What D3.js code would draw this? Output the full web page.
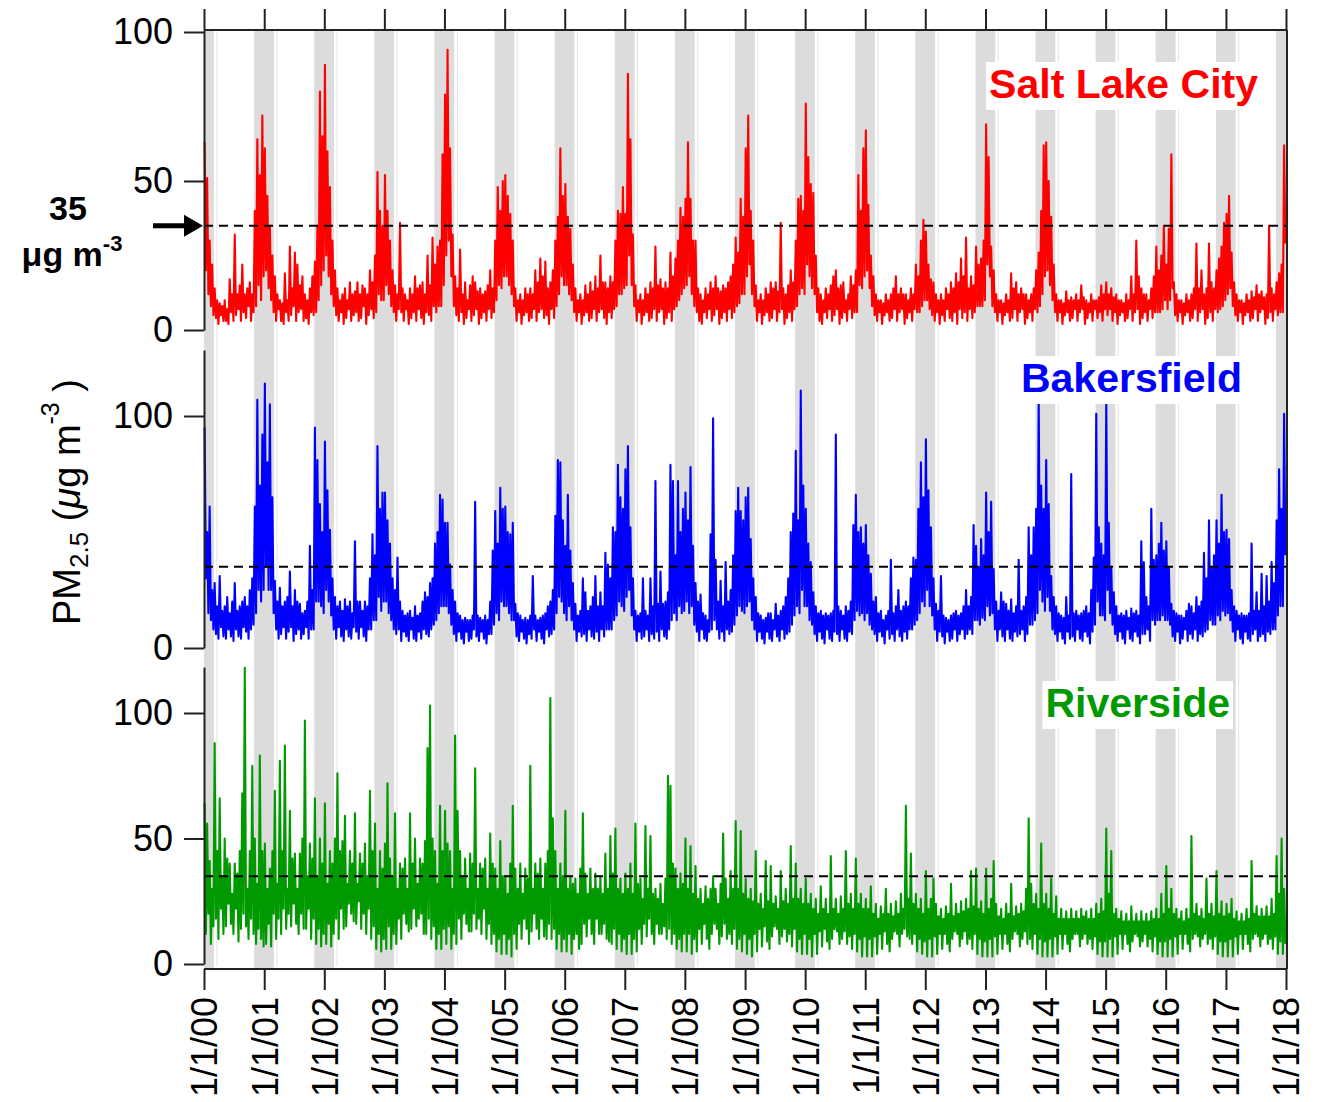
<!DOCTYPE html>
<html>
<head>
<meta charset="utf-8">
<script src="https://cdn.jsdelivr.net/npm/d3@7"></script>
<style>
  body { margin: 0; background: #fff; }
  svg { display: block; }
  text { font-family: "Liberation Sans", Arial, Helvetica, sans-serif; }
</style>
</head>
<body>
<svg id="chart" width="1321" height="1102"></svg>
<script>
// Years covered by the record; each row of a site's data holds 48 readings (4 per month).
const years = d3.range(2000, 2018);
const tickLabels = ["1/1/00","1/1/01","1/1/02","1/1/03","1/1/04","1/1/05","1/1/06","1/1/07","1/1/08",
  "1/1/09","1/1/10","1/1/11","1/1/12","1/1/13","1/1/14","1/1/15","1/1/16","1/1/17","1/1/18"];
const threshold = 35;            // 24-h PM2.5 standard, µg m-3
const winterStart = [10, 1];     // shaded season: Nov 1 ...
const winterEnd = [2, 1];        // ... to Mar 1

// Salt Lake City PM2.5 (µg m-3)
const slcPM = [
  [63,20,51,12, 30,8,22,5, 14,4,10,2, 9,5,8,3, 10,3,7,2, 17,6,12,3, 32,5,12,7, 15,3,22,6, 12,4,14,8, 16,3,12,6, 40,8,64,15, 52,10,72,18],
  [61,20,45,14, 35,10,25,6, 18,3,12,7, 10,3,9,2, 19,6,10,3, 28,5,14,8, 26,3,22,6, 15,7,18,3, 12,4,10,2, 14,6,18,5, 23,6,35,10, 80,15,65,20],
  [89,25,60,18, 48,12,30,8, 20,5,14,3, 10,6,12,2, 14,4,10,7, 16,3,12,5, 13,6,16,3, 12,4,15,8, 14,2,12,5, 20,7,16,4, 25,6,53,12, 40,10,35,10],
  [52,15,40,12, 30,8,20,6, 15,3,12,7, 36,6,14,3, 12,7,10,2, 14,4,12,6, 18,3,14,7, 15,4,16,2, 12,6,25,5, 15,3,31,8, 22,6,28,8, 30,8,59,15],
  [79,25,94,30, 61,18,32,8, 18,5,14,3, 27,6,12,2, 16,4,10,7, 15,3,18,5, 16,7,13,2, 14,4,12,6, 13,3,15,7, 20,4,14,6, 30,10,48,15, 40,14,50,18],
  [52,18,45,15, 39,12,30,8, 14,3,10,6, 12,2,10,5, 14,6,12,3, 14,4,12,7, 20,3,16,6, 24,7,18,4, 23,5,14,2, 16,7,20,4, 30,8,38,12, 61,18,45,15],
  [49,15,38,12, 34,10,22,6, 14,3,10,6, 12,2,10,5, 15,6,12,3, 16,4,13,7, 18,3,14,6, 25,7,16,4, 16,2,14,6, 18,4,16,7, 30,8,40,12, 39,12,48,14],
  [39,15,86,25, 64,15,32,8, 15,3,10,6, 12,2,10,5, 14,6,12,3, 16,4,14,7, 28,3,15,6, 17,7,14,2, 16,4,14,6, 26,3,18,7, 24,8,30,10, 41,12,38,14],
  [44,15,63,18, 44,12,30,8, 30,6,14,3, 12,2,10,6, 14,4,12,7, 16,3,14,5, 18,7,14,2, 13,4,15,6, 14,3,16,7, 18,4,22,6, 31,8,26,9, 44,12,38,12],
  [61,18,72,22, 40,12,30,8, 15,3,10,6, 12,2,10,5, 14,6,12,3, 16,4,14,7, 16,3,13,6, 36,7,14,2, 12,4,15,6, 20,3,16,7, 30,8,44,12, 45,14,40,12],
  [76,22,58,18, 49,14,46,12, 25,6,14,3, 12,2,10,6, 14,4,12,7, 15,3,18,5, 20,7,14,2, 15,4,16,6, 10,3,12,7, 18,4,15,6, 20,6,52,15, 40,14,61,18],
  [67,20,42,14, 25,8,18,5, 12,3,10,6, 10,2,9,5, 12,6,10,3, 12,4,14,7, 18,3,12,6, 14,7,12,2, 12,4,10,6, 14,3,12,7, 22,6,18,6, 30,8,37,10],
  [33,10,22,7, 17,5,16,3, 12,6,10,2, 12,5,10,3, 14,7,12,4, 16,3,14,6, 19,2,16,7, 24,4,18,6, 31,3,14,7, 18,4,15,6, 28,8,22,8, 24,8,30,10],
  [69,22,58,18, 28,8,20,6, 12,3,10,6, 10,2,9,5, 12,6,10,3, 19,4,14,7, 16,3,12,6, 14,7,12,2, 12,4,10,6, 12,3,14,7, 20,6,26,8, 40,12,62,18],
  [63,20,50,15, 38,10,22,6, 12,3,10,6, 10,2,9,5, 13,6,10,3, 11,4,10,7, 12,3,10,6, 15,7,11,2, 10,4,9,6, 12,3,10,7, 10,4,11,6, 15,3,12,7],
  [16,5,12,7, 14,3,11,6, 12,2,10,5, 10,6,9,3, 12,4,10,7, 18,3,12,6, 30,7,18,2, 14,4,12,6, 12,3,10,7, 14,4,18,6, 28,6,20,6, 25,7,35,10],
  [22,7,34,10, 59,14,16,5, 12,3,10,6, 10,2,9,5, 12,6,10,3, 12,4,14,7, 29,3,14,6, 20,7,12,2, 14,4,29,6, 16,3,14,7, 20,6,24,7, 28,8,36,10],
  [39,12,45,14, 26,8,16,5, 12,3,10,6, 10,2,9,5, 12,6,10,3, 13,4,11,7, 15,3,12,6, 13,7,11,2, 12,4,35,6, 14,3,12,7, 16,5,19,6, 22,6,62,29]
];

// Bakersfield PM2.5 (µg m-3)
const bakPM = [
  [95,30,50,15, 61,12,25,8, 28,6,18,4, 31,9,16,5, 18,4,22,8, 15,5,20,3, 28,8,16,5, 18,4,20,9, 22,7,18,4, 25,8,30,10, 61,15,107,25, 70,20,92,25],
  [114,35,80,25, 105,25,65,15, 29,8,20,4, 26,6,18,9, 20,4,22,7, 33,9,18,3, 25,6,20,8, 19,4,15,6, 16,9,20,4, 44,8,25,8, 95,20,81,20, 62,18,50,15],
  [89,25,68,20, 51,14,30,8, 22,4,18,9, 20,5,16,3, 21,8,18,5, 20,4,15,9, 46,7,20,4, 20,9,16,5, 20,3,18,8, 30,8,49,12, 40,12,87,22, 60,16,67,20],
  [67,20,55,15, 45,12,30,8, 25,6,39,8, 20,3,16,7, 14,5,15,3, 16,8,13,4, 18,3,14,7, 15,4,20,8, 24,6,22,5, 28,8,30,10, 45,12,50,15, 66,18,64,18],
  [54,18,54,15, 36,10,25,6, 20,3,15,7, 14,4,12,2, 13,7,12,3, 12,4,14,8, 63,5,14,3, 13,7,12,4, 14,2,12,6, 20,6,42,10, 59,15,45,12, 69,20,60,18],
  [61,18,50,15, 49,12,54,12, 19,5,15,3, 14,7,12,4, 13,2,12,6, 14,4,31,8, 14,3,12,7, 13,4,14,2, 15,8,18,5, 20,6,25,8, 57,15,81,22, 80,20,55,15],
  [44,12,66,18, 42,12,28,8, 19,3,14,7, 16,5,30,6, 24,3,16,8, 18,5,22,4, 31,7,18,3, 24,8,18,5, 41,8,36,8, 30,8,52,12, 50,14,79,20, 65,18,60,16],
  [77,22,87,25, 52,14,30,8, 16,3,14,7, 15,4,30,5, 16,8,14,3, 30,6,18,4, 72,7,19,3, 33,8,19,5, 20,4,24,8, 79,12,72,15, 40,12,72,18, 50,15,60,16],
  [67,20,55,15, 78,18,44,10, 28,7,20,3, 23,8,15,4, 14,3,12,7, 49,8,99,12, 38,8,20,4, 29,7,18,3, 37,8,20,6, 25,7,40,10, 59,14,69,18, 59,16,55,15],
  [65,18,69,20, 47,12,30,8, 22,3,15,7, 14,4,12,2, 13,7,15,4, 15,3,12,8, 19,5,14,3, 16,8,18,4, 22,6,30,7, 50,10,58,14, 85,18,55,15, 111,25,70,18],
  [60,18,45,12, 37,10,24,6, 18,3,15,7, 16,4,14,2, 15,8,14,4, 15,3,16,7, 92,6,18,3, 16,8,14,4, 18,3,16,7, 20,6,53,12, 66,16,50,14, 52,15,45,12],
  [53,15,40,10, 32,8,20,6, 22,3,15,7, 16,5,12,2, 14,8,16,4, 38,6,15,3, 18,8,25,5, 16,3,18,7, 20,4,18,8, 30,8,39,10, 38,12,60,15, 80,20,65,18],
  [90,25,68,18, 52,14,30,8, 19,3,16,7, 31,5,14,2, 13,7,12,3, 14,4,15,8, 16,3,14,6, 15,8,18,4, 25,6,18,8, 22,6,53,12, 44,12,35,10, 47,13,40,12],
  [67,18,50,14, 63,15,34,8, 20,3,16,8, 24,5,20,3, 19,8,16,4, 21,3,15,7, 18,5,38,6, 16,8,18,3, 22,6,52,10, 40,10,52,12, 60,15,106,25, 70,20,60,16],
  [81,22,62,16, 31,8,22,6, 18,3,15,7, 14,4,13,2, 22,7,14,4, 75,5,15,3, 16,8,14,4, 15,3,16,7, 18,5,15,2, 25,7,39,10, 101,20,52,14, 45,14,40,12],
  [106,25,54,15, 35,10,24,6, 18,3,14,7, 15,4,14,2, 16,8,13,4, 17,3,15,7, 16,5,14,2, 46,6,37,6, 22,8,18,3, 60,12,38,10, 40,12,45,12, 54,14,42,12],
  [46,12,35,10, 19,5,16,3, 15,7,14,2, 14,4,13,8, 16,3,19,6, 18,4,15,8, 22,3,18,6, 20,5,41,7, 30,8,55,12, 35,10,40,10, 55,14,45,12, 66,16,50,14],
  [51,15,47,12, 25,7,18,3, 16,8,14,4, 15,2,14,7, 14,4,15,3, 45,6,16,8, 24,3,16,5, 32,6,18,3, 31,7,20,6, 37,8,28,8, 55,14,77,18, 60,18,101,40]
];

// Riverside PM2.5 (µg m-3)
const rivPM = [
  [64,12,56,20, 41,8,30,15, 88,18,45,10, 66,22,35,12, 50,15,42,24, 40,16,28,12, 40,22,36,9, 45,14,68,20, 118,15,30,10, 45,18,79,12, 50,8,32,14, 83,10,45,7],
  [48,8,30,16, 38,7,45,20, 69,10,32,18, 81,12,45,22, 87,14,30,20, 61,15,42,24, 44,16,30,12, 44,20,50,14, 97,14,35,22, 48,10,42,18, 66,8,35,14, 50,7,40,12],
  [64,8,32,16, 45,7,40,12, 50,18,76,10, 45,22,49,14, 59,15,32,24, 45,20,40,17, 60,16,32,25, 44,14,40,20, 48,12,35,22, 69,10,45,15, 56,6,30,12, 45,5,38,10],
  [48,6,72,15, 42,6,35,12, 60,8,30,18, 40,10,38,20, 42,16,30,13, 60,14,40,22, 50,15,32,18, 42,20,40,12, 49,12,86,18, 103,10,50,15, 45,6,32,12, 63,6,45,14],
  [61,8,48,15, 45,6,30,12, 91,8,61,18, 45,10,35,20, 42,16,30,13, 44,13,40,20, 78,14,30,18, 40,12,38,22, 42,10,30,16, 52,8,40,12, 38,5,30,10, 49,4,35,12],
  [35,4,28,10, 40,3,63,12, 38,6,30,16, 40,10,28,18, 38,14,34,8, 79,13,30,20, 40,14,36,10, 42,18,30,11, 40,10,45,16, 106,10,58,14, 45,6,30,12, 40,5,35,10],
  [61,5,30,12, 35,4,32,10, 34,12,28,6, 38,8,60,16, 36,11,28,18, 38,12,30,8, 36,18,30,12, 35,12,28,16, 44,10,30,9, 51,8,36,14, 54,6,30,12, 34,5,28,10],
  [36,4,30,12, 40,4,28,10, 56,5,32,14, 34,8,26,16, 55,11,30,18, 51,12,28,8, 30,16,26,12, 32,12,24,15, 34,10,75,14, 71,8,40,12, 38,6,30,10, 36,5,32,12],
  [50,5,30,12, 47,4,28,10, 39,5,26,14, 30,8,24,16, 31,10,26,6, 30,12,35,16, 30,14,24,8, 32,11,52,16, 34,10,26,12, 37,8,30,14, 57,6,30,10, 53,5,28,12],
  [34,4,26,10, 30,3,25,12, 45,5,24,14, 28,7,22,15, 41,9,25,6, 39,11,24,15, 27,14,22,8, 37,11,25,14, 30,9,24,12, 47,7,26,14, 40,5,26,10, 30,4,24,12],
  [34,4,24,10, 28,3,22,12, 26,4,20,13, 31,7,22,14, 26,9,20,6, 43,10,22,14, 26,13,20,8, 27,10,22,13, 45,8,24,11, 28,6,22,12, 42,5,24,10, 28,3,22,11],
  [26,3,22,10, 31,3,20,11, 24,4,18,12, 23,6,20,13, 30,8,20,5, 24,10,19,13, 25,12,20,7, 28,12,22,14, 63,11,26,10, 44,8,24,12, 28,5,22,10, 26,4,20,9],
  [37,3,22,10, 26,3,34,11, 24,4,19,12, 22,6,18,12, 23,8,20,5, 32,10,19,13, 24,12,20,7, 25,10,21,13, 26,8,22,10, 37,6,23,12, 38,4,22,10, 25,3,20,9],
  [38,3,22,10, 26,3,41,11, 24,4,19,12, 22,6,18,12, 24,8,20,5, 32,10,19,13, 23,12,20,7, 24,10,21,13, 30,8,58,10, 32,6,24,12, 28,4,22,10, 48,3,24,9],
  [28,3,22,10, 34,3,20,11, 27,4,18,12, 22,6,18,12, 21,8,18,5, 22,10,18,12, 21,12,18,7, 22,10,19,12, 21,8,18,10, 22,6,18,11, 24,4,20,9, 26,3,21,9],
  [54,3,28,10, 45,3,20,11, 22,4,18,12, 21,6,17,12, 20,8,17,5, 23,9,17,12, 20,11,17,7, 21,9,17,12, 20,7,17,10, 21,5,18,11, 22,4,18,9, 28,3,20,9],
  [39,3,22,10, 30,3,20,11, 22,4,18,12, 21,6,17,12, 22,8,18,5, 51,10,20,12, 24,11,19,7, 22,10,18,12, 34,8,20,10, 24,6,19,11, 37,4,20,9, 25,3,19,9],
  [24,3,20,10, 26,3,18,11, 21,4,17,12, 20,6,17,12, 22,8,18,5, 41,10,20,12, 23,11,19,7, 22,10,19,12, 23,8,19,10, 26,6,20,11, 43,4,28,9, 50,4,30,8]
];

// Place each year's readings evenly through that year.
function toSeries(rows) {
  const pts = [];
  rows.forEach((vals, k) => {
    const t0 = new Date(years[k], 0, 1), t1 = new Date(years[k] + 1, 0, 1);
    vals.forEach((v, i) => pts.push({ date: new Date(+t0 + (i + 0.5) / vals.length * (t1 - t0)), value: v }));
  });
  return pts;
}

const svg = d3.select("#chart");
const left = 204, right = 1287, frameTop = 30, frameBottom = 969;
const start = new Date(2000, 0, 1), end = new Date(2018, 0, 1);
const x = d3.scaleTime().domain([start, end]).range([left, 1286]);

const panels = [
  { name: "Salt Lake City", rows: slcPM, color: "#ff0000", zeroY: 330, hundredY: 32, topY: frameTop, ticks: [0, 50, 100], labelEnd: 1258, labelBase: 98 },
  { name: "Bakersfield", rows: bakPM, color: "#0000ff", zeroY: 648, hundredY: 416, topY: 350, ticks: [0, 100], labelEnd: 1242, labelBase: 392 },
  { name: "Riverside", rows: rivPM, color: "#009a00", zeroY: 964, hundredY: 713, topY: 667, ticks: [0, 50, 100], labelEnd: 1230, labelBase: 717 }
];
panels.forEach(p => { p.y = d3.scaleLinear().domain([0, 100]).range([p.zeroY, p.hundredY]); });

// Winter shading (Nov 1 - Mar 1) behind all three panels
const bands = d3.range(2000, 2019).map(yr => ({
  from: d3.max([start, new Date(yr - 1, winterStart[0], winterStart[1])]),
  to: d3.min([end, new Date(yr, winterEnd[0], winterEnd[1])])
})).filter(b => b.to > b.from);

const bandG = svg.append("g");
bandG.selectAll("rect").data(bands).join("rect")
  .attr("x", d => x(d.from)).attr("width", d => x(d.to) - x(d.from))
  .attr("y", 31).attr("height", 937)
  .attr("fill", "#dcdcdc");
bandG.selectAll("line").data(bands.filter(b => b.to < end)).join("line")
  .attr("x1", d => x(d.to) + 3).attr("x2", d => x(d.to) + 3)
  .attr("y1", 31).attr("y2", 966)
  .attr("stroke", "#e4e4e4").attr("stroke-width", 1);

// Series lines
panels.forEach(p => {
  const line = d3.line().x(d => x(d.date)).y(d => p.y(d.value));
  svg.append("path").datum(toSeries(p.rows))
    .attr("d", line)
    .attr("fill", "none").attr("stroke", p.color)
    .attr("stroke-width", 2.1).attr("stroke-linejoin", "round");
});

// 35 µg m-3 reference lines
panels.forEach(p => {
  svg.append("line")
    .attr("x1", left).attr("x2", right)
    .attr("y1", p.y(threshold)).attr("y2", p.y(threshold))
    .attr("stroke", "#000").attr("stroke-width", 2).attr("stroke-dasharray", "9,6");
});

// Left axes, one per panel
panels.forEach(p => {
  const axisScale = p.y.copy().domain([0, p.y.invert(p.topY)]).range([p.zeroY, p.topY]);
  const g = svg.append("g").attr("transform", `translate(${left},0)`)
    .call(d3.axisLeft(axisScale).tickValues(p.ticks).tickSizeInner(20).tickSizeOuter(0).tickPadding(11));
  g.select(".domain").attr("stroke", "#222").attr("stroke-width", 2);
  g.selectAll(".tick line").attr("stroke", "#222").attr("stroke-width", 2);
  g.selectAll(".tick text").attr("font-size", 36).attr("fill", "#000")
    .attr("font-family", "'Liberation Sans', Arial, sans-serif");
});

// Top and bottom time axes, right frame
const yearTicks = d3.timeYear.range(start, d3.timeDay.offset(end, 1));
const topAxis = svg.append("g").attr("transform", `translate(0,${frameTop})`)
  .call(d3.axisTop(x).tickValues(yearTicks).tickFormat("").tickSizeInner(21).tickSizeOuter(0));
const bottomAxis = svg.append("g").attr("transform", `translate(0,${frameBottom})`)
  .call(d3.axisBottom(x).tickValues(yearTicks).tickFormat((d, i) => tickLabels[i]).tickSizeInner(21).tickSizeOuter(0));
[topAxis, bottomAxis].forEach(g => {
  g.select(".domain").attr("d", `M${left},0H${right}`).attr("stroke", "#222").attr("stroke-width", 2);
  g.selectAll(".tick line").attr("stroke", "#222").attr("stroke-width", 2);
});
bottomAxis.selectAll(".tick text")
  .attr("transform", "rotate(-90)")
  .attr("x", -28).attr("y", 0).attr("dy", "0.36em")
  .attr("text-anchor", "end")
  .attr("font-size", 36).attr("fill", "#000")
  .attr("font-family", "'Liberation Sans', Arial, sans-serif");
svg.append("line").attr("x1", right).attr("x2", right).attr("y1", frameTop).attr("y2", frameBottom)
  .attr("stroke", "#222").attr("stroke-width", 2);

// Site names on white patches
panels.forEach(p => {
  const t = svg.append("text")
    .attr("x", p.labelEnd).attr("y", p.labelBase)
    .attr("text-anchor", "end")
    .attr("font-size", 41).attr("font-weight", "bold")
    .attr("fill", p.color).text(p.name);
  const bb = t.node().getBBox();
  svg.insert("rect", () => t.node())
    .attr("x", bb.x - 3).attr("y", bb.y + 1)
    .attr("width", bb.width + 6).attr("height", bb.height + 2)
    .attr("fill", "#fff");
});

// Y-axis title
const yTitle = svg.append("text")
  .attr("transform", "translate(80,502) rotate(-90)")
  .attr("text-anchor", "middle")
  .attr("font-size", 38).attr("fill", "#000");
yTitle.append("tspan").text("PM");
yTitle.append("tspan").attr("font-size", 26).attr("dy", 8).text("2.5");
yTitle.append("tspan").attr("dy", -8).text(" (");
yTitle.append("tspan").attr("font-style", "italic").text("\u03bc");
yTitle.append("tspan").text("g m");
yTitle.append("tspan").attr("font-size", 25).attr("dy", -21).text("-3");
yTitle.append("tspan").attr("dy", 21).text(" )");

// Standard annotation and arrow on the top panel
const slcY = panels[0].y;
svg.append("text").attr("x", 68).attr("y", slcY(threshold) - 6)
  .attr("text-anchor", "middle").attr("font-size", 34).attr("font-weight", "bold").text("35");
const unit = svg.append("text").attr("x", 72).attr("y", slcY(threshold) + 40)
  .attr("text-anchor", "middle").attr("font-size", 34).attr("font-weight", "bold");
unit.append("tspan").text("\u03bcg m");
unit.append("tspan").attr("font-size", 22).attr("dy", -15).text("-3");

const ay = slcY(threshold);
const arrow = d3.path();
arrow.moveTo(153, ay - 2.5); arrow.lineTo(184, ay - 2.5); arrow.lineTo(184, ay - 11);
arrow.lineTo(203, ay); arrow.lineTo(184, ay + 11); arrow.lineTo(184, ay + 2.5);
arrow.lineTo(153, ay + 2.5); arrow.closePath();
svg.append("path").attr("d", arrow.toString()).attr("fill", "#000");
</script>
</body>
</html>
